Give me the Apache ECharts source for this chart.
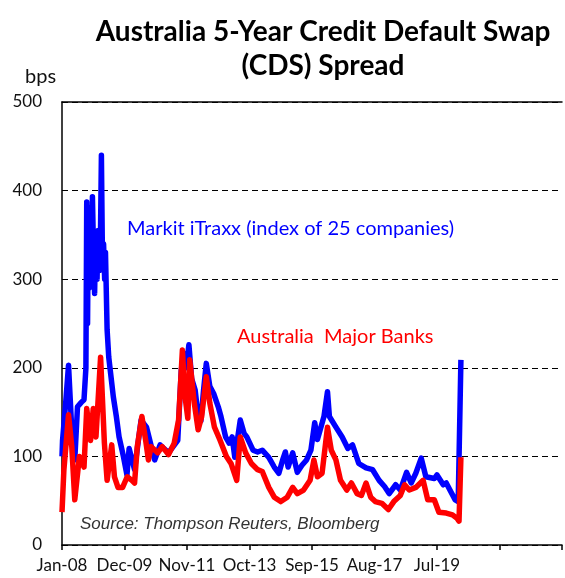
<!DOCTYPE html>
<html><head><meta charset="utf-8">
<script src="https://cdn.jsdelivr.net/npm/echarts@6/dist/echarts.min.js"></script>
<style>html,body{margin:0;padding:0;background:#fff}#c{width:565px;height:578px}</style>
</head><body><div id="c"></div>
<script>
// x = months since Jan-2008
var tickLabels = ['Jan-08','Dec-09','Nov-11','Oct-13','Sep-15','Aug-17','Jul-19','',''];
var itraxxMonths = [0,0.2,1.35,2.4,3.6,4.7,5.7,7.1,8.1,8.8,9.1,9.4,9.7,10.0,10.4,10.8,11.2,11.6,12.0,12.4,12.9,13.3,13.8,14.2,14.5,14.9,15.3,15.7,16.0,16.6,17.2,18.9,20.0,21.0,22.6,23.9,24.7,26.7,29.1,31.1,34.1,36.1,39.2,42.6,43.9,45.0,45.7,46.7,47.7,49.0,50.1,51.1,52.1,53.1,54.4,55.8,57.5,58.5,60.2,61.5,62.6,63.6,65.6,67.0,68.0,70.3,72.0,73.7,76.1,78.1,79.8,81.2,82.2,83.2,84.9,86.6,88.3,90.0,91.6,93.0,94.0,96.4,97.7,98.4,100.8,103.1,105.2,106.9,109.2,111.9,114.3,116.7,118.7,120.4,122.8,124.5,126.8,128.5,130.2,132.2,133.9,137.0,138.0,140.3,141.4,143.1,144.7,145.8,146.8];
var itraxxValues = [100,118,160,203,130,96,156,161,164,200,387,250,380,290,370,300,393,330,284,350,300,355,310,360,440,320,340,300,330,243,212,167,145,122,100,79,109,85,141,133,96,113,104,118,198,216,200,226,188,175,145,140,175,205,179,171,156,145,122,115,122,99,141,126,122,107,105,107,99,88,81,96,105,88,104,82,90,96,107,138,119,145,173,145,133,122,109,113,92,87,85,73,66,58,68,62,82,70,81,98,77,75,79,68,70,60,51,49,209];
var banksMonths = [0,0.7,2.4,3.6,4.7,6.4,8.1,9.1,10.5,11.5,12.5,14.2,15.6,16.6,18.3,19.3,20.6,22.3,24.0,25.7,26.7,27.7,29.4,30.8,31.8,32.8,35.2,36.9,39.2,41.3,42.9,44.3,45.3,46.3,47.0,48.7,50.1,51.4,53.1,54.4,56.1,58.2,60.5,62.2,64.3,65.6,67.6,69.7,72.0,73.7,76.1,78.1,80.5,82.9,84.9,86.6,88.9,91.3,92.7,94.0,95.7,97.7,99.1,100.8,102.5,104.8,106.5,108.6,110.2,111.9,113.6,115.3,117.7,120.1,122.1,124.5,126.1,127.8,130.2,132.9,134.6,137.0,138.7,141.4,143.7,145.4,146.1,146.8];
var banksValues = [37,85,147,111,51,100,88,154,118,154,122,212,115,73,113,77,65,65,77,73,70,111,145,118,96,111,104,111,102,115,141,220,167,143,209,160,130,145,190,160,133,118,100,92,73,122,104,92,85,83,65,54,49,54,65,58,62,73,96,77,81,133,107,96,73,62,70,58,56,70,54,49,47,40,49,56,68,62,65,73,51,51,37,36,34,30,27,99];

function pairs(xs, ys){ return xs.map(function(x,i){ return [x, ys[i]]; }); }

var chart = echarts.init(document.getElementById('c'));
var FONT = 'Lato';
chart.setOption({
  animation:false,
  backgroundColor:'#fff',
  title:{
    text:'Australia 5-Year Credit Default Swap\n(CDS) Spread',
    left:318, top:10, textAlign:'center',
    textStyle:{fontFamily:FONT, fontWeight:'bold', fontSize:28, lineHeight:34, color:'#000'}
  },
  grid:{left:62, top:102, width:544, height:443},
  xAxis:[{
    type:'value', min:0, max:184, interval:23,
    axisLine:{lineStyle:{color:'#000', width:1.5}},
    axisTick:{show:true, length:5, lineStyle:{color:'#000', width:1.5}},
    axisLabel:{margin:12, fontFamily:FONT, fontSize:17, color:'#111',
      formatter:function(v){ return tickLabels[Math.round(v/23)] || ''; }},
    splitLine:{show:false}
  },{
    type:'value', position:'top', min:0, max:184,
    axisLine:{show:true, lineStyle:{color:'#000', width:1.5}},
    axisTick:{show:false}, axisLabel:{show:false}, splitLine:{show:false}
  }],
  yAxis:{
    type:'value', min:0, max:500, interval:100,
    axisLine:{show:true, lineStyle:{color:'#000', width:1.5}},
    axisTick:{show:false},
    axisLabel:{margin:20, fontFamily:FONT, fontSize:17, color:'#111'},
    splitLine:{lineStyle:{color:'#000', type:[6,4], width:1.2}}
  },
  graphic:[
    {type:'text', left:25, top:67, style:{text:'bps', font:'20px Lato', fill:'#111'}},
    {type:'text', left:127, top:219, style:{text:'Markit iTraxx (index of 25 companies)', font:'20px Lato', fill:'#0000FF'}},
    {type:'text', left:237, top:327, style:{text:'Australia  Major Banks', font:'20px Lato', fill:'#FF0000'}},
    {type:'text', left:80, top:516, style:{text:'Source: Thompson Reuters, Bloomberg', font:'italic 17px "Liberation Sans"', fill:'#333'}}
  ],
  series:[
    {type:'line', name:'Markit iTraxx', data:pairs(itraxxMonths, itraxxValues), showSymbol:false,
     lineStyle:{color:'#0000FF', width:5.5, join:'round'}, z:2},
    {type:'line', name:'Australia Major Banks', data:pairs(banksMonths, banksValues), showSymbol:false,
     lineStyle:{color:'#FF0000', width:5.5, join:'round'}, z:3}
  ]
});
</script></body></html>
